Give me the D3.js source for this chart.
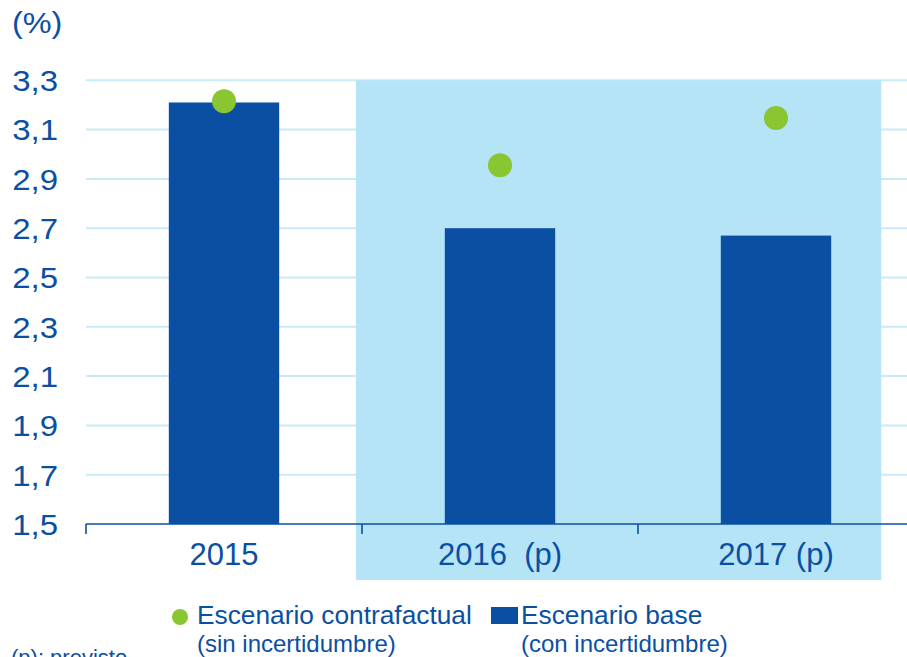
<!DOCTYPE html>
<html><head><meta charset="utf-8">
<script src="https://cdn.jsdelivr.net/npm/d3@7"></script>
<style>
html,body{margin:0;padding:0;background:#fff;overflow:hidden;}
text{font-family:"Liberation Sans",Arial,sans-serif;}
</style></head>
<body>
<svg id="c" width="907" height="657"></svg>
<script>
const categories = ["2015", "2016  (p)", "2017 (p)"];
const baseValues = [3.21, 2.70, 2.67];          // Escenario base (con incertidumbre)
const contraValues = [3.215, 2.955, 3.147];     // Escenario contrafactual (sin incertidumbre)
const yTicks = [1.5, 1.7, 1.9, 2.1, 2.3, 2.5, 2.7, 2.9, 3.1, 3.3];
const shadedCats = ["2016  (p)", "2017 (p)"];
const unitLabel = "(%)";
const legendItems = [
  {type:"dot", l1:"Escenario contrafactual", l2:"(sin incertidumbre)"},
  {type:"rect", l1:"Escenario base", l2:"(con incertidumbre)"}
];
const footnote = "(p): previsto";

const BLUE = "#0b4fa3", GREEN = "#89c631", SHADE = "#b5e4f7", GRID = "#c8ebf8", TXT = "#0b4fa3";

const svg = d3.select("#c");
const x = d3.scaleBand().domain(categories).range([86, 914]).paddingInner(0.6).paddingOuter(0.3);
const y = d3.scaleLinear().domain([1.5, 3.3]).range([524, 80.3]);
const fmt = v => d3.format(".1f")(v).replace(".", ",");

// gridlines
svg.append("g").selectAll("line").data(yTicks.slice(1)).join("line")
  .attr("x1", 86).attr("x2", 914).attr("y1", d => y(d)).attr("y2", d => y(d))
  .attr("stroke", GRID).attr("stroke-width", 2);

// shaded forecast region
const step = x.step();
const sx0 = x(shadedCats[0]) - x.paddingInner()*step/2 - 6;
const sx1 = x(shadedCats[shadedCats.length-1]) + x.bandwidth() + 50;
svg.append("rect").attr("x", sx0).attr("y", y(3.3)).attr("width", sx1 - sx0).attr("height", 580 - y(3.3))
  .attr("fill", SHADE);

// y tick labels (slightly wide glyphs as in reference)
svg.append("g").selectAll("text").data(yTicks).join("text")
  .attr("transform", d => `translate(58,${y(d)}) scale(1.1,1)`)
  .attr("dy", "0.36em").attr("text-anchor", "end")
  .attr("font-size", 30).attr("fill", TXT).text(fmt);

svg.append("text").attr("transform", "translate(12,33) scale(1.08,1)")
  .attr("font-size", 30).attr("fill", TXT).text(unitLabel);

// bars
svg.append("g").selectAll("rect").data(categories).join("rect")
  .attr("x", d => x(d)).attr("width", x.bandwidth())
  .attr("y", (d,i) => y(baseValues[i])).attr("height", (d,i) => y(1.5) - y(baseValues[i]))
  .attr("fill", BLUE);

// dots
svg.append("g").selectAll("circle").data(categories).join("circle")
  .attr("cx", d => x(d) + x.bandwidth()/2).attr("cy", (d,i) => y(contraValues[i])).attr("r", 12)
  .attr("fill", GREEN);

// x axis
const xAxis = svg.append("g");
xAxis.append("line").attr("x1", 86).attr("x2", 914).attr("y1", y(1.5)).attr("y2", y(1.5))
  .attr("stroke", BLUE).attr("stroke-width", 1.6);
xAxis.selectAll("line.t").data(categories).join("line").attr("class","t")
  .attr("x1", d => x(d) - x.paddingInner()*step/2).attr("x2", d => x(d) - x.paddingInner()*step/2)
  .attr("y1", y(1.5)).attr("y2", y(1.5) + 10).attr("stroke", BLUE).attr("stroke-width", 1.6);
xAxis.selectAll("text").data(categories).join("text")
  .attr("x", d => x(d) + x.bandwidth()/2).attr("y", 565).attr("text-anchor", "middle")
  .attr("font-size", 31).attr("fill", TXT).style("white-space","pre").attr("xml:space","preserve").text(d => d);

// legend
const lg = svg.append("g");
lg.append("circle").attr("cx", 180).attr("cy", 617).attr("r", 8).attr("fill", GREEN);
lg.append("text").attr("x", 197).attr("y", 624).attr("font-size", 26.3).attr("fill", TXT).text(legendItems[0].l1);
lg.append("text").attr("x", 197).attr("y", 652).attr("font-size", 24).attr("fill", TXT).text(legendItems[0].l2);
lg.append("rect").attr("x", 491).attr("y", 607).attr("width", 27).attr("height", 17).attr("fill", BLUE);
lg.append("text").attr("x", 521).attr("y", 624).attr("font-size", 26.3).attr("fill", TXT).text(legendItems[1].l1);
lg.append("text").attr("x", 521).attr("y", 652).attr("font-size", 24).attr("fill", TXT).text(legendItems[1].l2);

svg.append("text").attr("x", 11).attr("y", 665).attr("font-size", 22).attr("fill", TXT).text(footnote);
</script>
</body></html>
